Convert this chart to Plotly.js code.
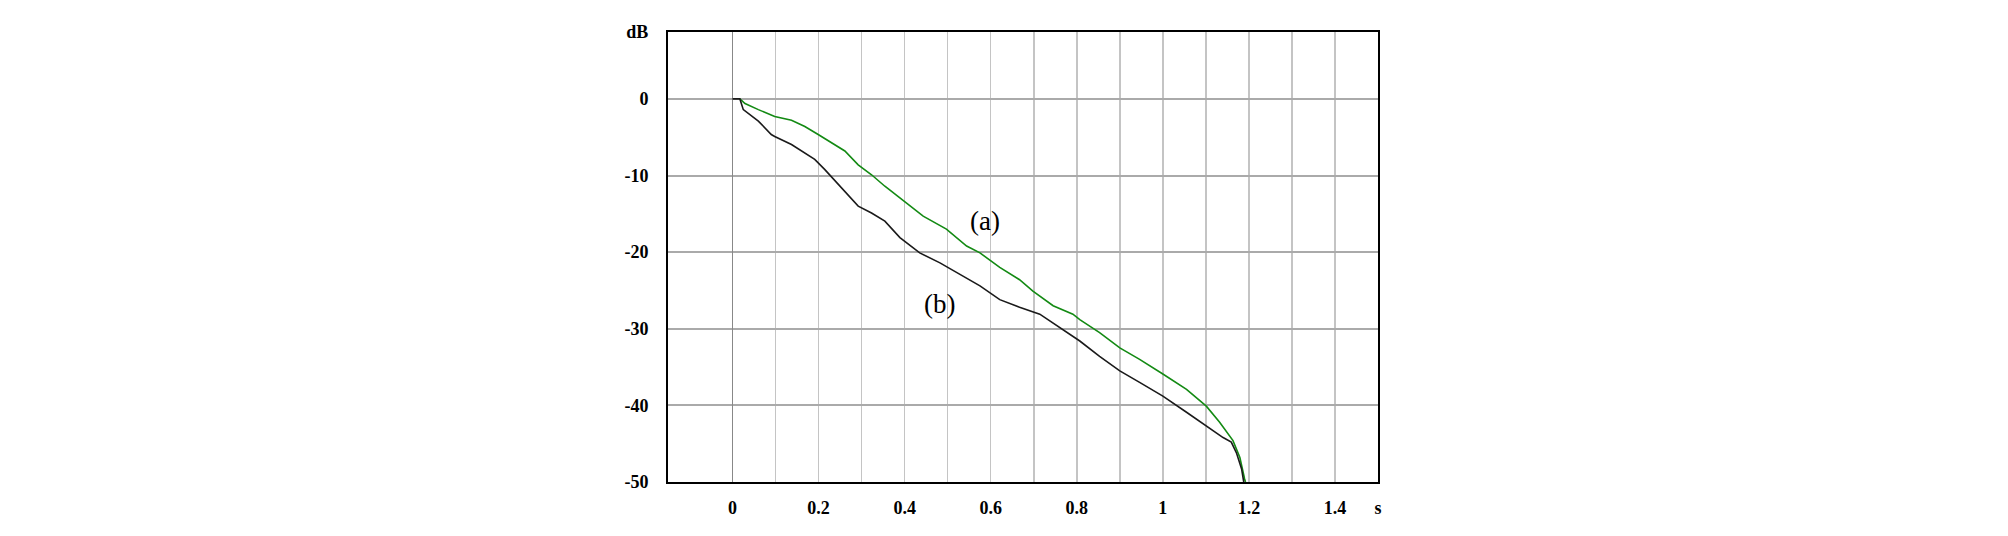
<!DOCTYPE html>
<html>
<head>
<meta charset="utf-8">
<script src="https://cdn.plot.ly/plotly-3.0.1.min.js"></script>
<style>html,body{margin:0;padding:0;background:#fff;}#chart{width:2008px;height:536px;}</style>
</head>
<body>
<div id="chart"></div>
<script>
// Curve (a) - green
const tA = [0.017,0.029,0.06,0.098,0.137,0.168,0.199,0.23,0.261,0.292,0.323,0.354,0.389,0.443,0.497,0.544,0.575,0.621,0.667,0.698,0.745,0.791,0.807,0.853,0.9,0.946,1.0,1.055,1.101,1.132,1.163,1.179,1.19,1.192];
const dbA = [0,-0.6,-1.4,-2.3,-2.8,-3.6,-4.65,-5.7,-6.8,-8.6,-9.9,-11.4,-12.9,-15.3,-17.0,-19.2,-20.1,-22.0,-23.6,-25.1,-27.0,-28.1,-28.8,-30.5,-32.5,-34.0,-35.9,-37.9,-40.1,-42.2,-44.6,-46.8,-49.6,-50];
// Curve (b) - black
const tB = [0,0.017,0.025,0.06,0.09,0.098,0.137,0.168,0.191,0.214,0.238,0.261,0.292,0.323,0.354,0.389,0.435,0.482,0.528,0.575,0.621,0.667,0.714,0.753,0.807,0.853,0.9,0.946,1.0,1.055,1.101,1.14,1.159,1.171,1.183,1.186,1.188];
const dbB = [0,0,-1.4,-2.9,-4.65,-4.9,-5.96,-7.04,-7.9,-9.2,-10.7,-12.0,-14.0,-14.9,-15.96,-18.1,-20.1,-21.4,-22.9,-24.4,-26.2,-27.2,-28.1,-29.6,-31.6,-33.6,-35.5,-37.0,-38.8,-40.9,-42.7,-44.2,-44.8,-46.2,-48.3,-49.6,-50];

const xTickVals = [0,0.2,0.4,0.6,0.8,1,1.2,1.4,1.5];
const xTickText = ['0','0.2','0.4','0.6','0.8','1','1.2','1.4','s'];
const xMinorVals = [0.1,0.3,0.5,0.7,0.9,1.1,1.3];
const yTickVals = [-50,-40,-30,-20,-10,0,8.73];
const yTickText = ['-50','-40','-30','-20','-10','0','dB'];
const labels = [{text:'(a)', x:0.586, y:-15.96},{text:'(b)', x:0.482, y:-26.8}];

const tickFont = {family:'"Liberation Serif", "Times New Roman", serif', size:18, color:'#000', weight:'bold'};

const traces = [
  {x:tA, y:dbA, type:'scatter', mode:'lines', line:{color:'#138a13', width:1.6}, hoverinfo:'skip'},
  {x:tB, y:dbB, type:'scatter', mode:'lines', line:{color:'#1a1a1a', width:1.6}, hoverinfo:'skip'}
];

const layout = {
  width:2008, height:536,
  margin:{l:668, r:630, t:32, b:54, pad:0},
  paper_bgcolor:'#fff', plot_bgcolor:'#fff',
  showlegend:false,
  font:{family:'"Liberation Serif", "Times New Roman", serif', size:18, color:'#000'},
  xaxis:{
    range:[-0.15,1.5], tickmode:'array', tickvals:xTickVals, ticktext:xTickText,
    showgrid:true, gridcolor:'#c4c4c4', gridwidth:1.5,
    minor:{tickmode:'array', tickvals:xMinorVals, showgrid:true, gridcolor:'#c4c4c4', gridwidth:1.5, ticks:''},
    zeroline:true, zerolinecolor:'#888', zerolinewidth:1.5,
    showline:true, mirror:true, linecolor:'#000', linewidth:2,
    ticks:'', ticklabelstandoff:8, tickfont:tickFont, fixedrange:true
  },
  yaxis:{
    range:[-50,8.73], tickmode:'array', tickvals:yTickVals, ticktext:yTickText,
    showgrid:true, gridcolor:'#aaaaaa', gridwidth:2,
    zeroline:false,
    showline:true, mirror:true, linecolor:'#000', linewidth:2,
    ticks:'', ticklabelstandoff:14, tickfont:tickFont, fixedrange:true
  },
  shapes:[
    {type:'line', xref:'x', yref:'paper', x0:1, x1:1, y0:0, y1:1, line:{color:'#888', width:1.5}, layer:'below'}
  ],
  annotations: labels.map(l => ({
    text:l.text, x:l.x, y:l.y, xref:'x', yref:'y', showarrow:false,
    font:{family:'"Liberation Serif", "Times New Roman", serif', size:27, color:'#000', weight:'normal'},
    bgcolor:'rgba(255,255,255,0)'
  }))
};

Plotly.newPlot('chart', traces, layout, {staticPlot:true, displayModeBar:false});
</script>
</body>
</html>
